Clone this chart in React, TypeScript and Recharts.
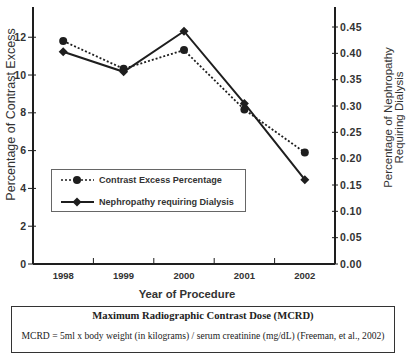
import React from 'react';
import { LineChart, Line, XAxis, YAxis, Legend } from 'recharts';

const years = ['1998', '1999', '2000', '2001', '2002'];
const contrastExcess = [11.8, 10.33, 11.32, 8.17, 5.9];
const nephropathyDialysis = [0.403, 0.365, 0.442, 0.305, 0.16];
const leftTicks = [0, 2, 4, 6, 8, 10, 12];
const rightTicks = [0, 0.05, 0.1, 0.15, 0.2, 0.25, 0.3, 0.35, 0.4, 0.45];
const seriesNames = ['Contrast Excess Percentage', 'Nephropathy requiring Dialysis'];
const xTitle = 'Year of Procedure';
const leftTitle = 'Percentage of Contrast Excess';
const rightTitle = ['Percentage of Nephropathy', 'Requiring Dialysis'];
const captionTitle = 'Maximum Radiographic Contrast Dose (MCRD)';
const captionText = 'MCRD = 5ml x body weight (in kilograms) / serum creatinine (mg/dL) (Freeman, et al., 2002)';

const data = years.map((y, i) => ({ year: y, contrast: contrastExcess[i], nephro: nephropathyDialysis[i] }));

const W = 411;
const CH = 300;
const LEFT_W = 33;
const RIGHT_W = 76;
const X_H = 36;
const TOP = 7;
const BAND = (W - LEFT_W - RIGHT_W) / years.length;
const INK = '#1e1e1e';
const SANS = '"Liberation Sans", Arial, sans-serif';
const SERIF = '"Liberation Serif", "Times New Roman", serif';

const XTick = (props: any) => {
  const { x, y, payload, index } = props;
  const axisY = y - 8;
  return (
    <g>
      <text x={x} y={y} dy="0.71em" textAnchor="middle" fontFamily={SANS} fontSize={9.5} fontWeight="bold" fill="#333">
        {payload.value}
      </text>
      {index < years.length - 1 && (
        <line x1={x + BAND / 2} x2={x + BAND / 2} y1={axisY} y2={axisY - 6} stroke={INK} strokeWidth={1} />
      )}
    </g>
  );
};

const LeftTick = (props: any) => {
  const { x, y, payload } = props;
  const axisX = x + 7;
  return (
    <g>
      <text x={x} y={y} dy="0.35em" textAnchor="end" fontFamily={SANS} fontSize={10.5} fontWeight="bold" fill="#333">
        {payload.value}
      </text>
      <line x1={axisX - 5} x2={axisX + 3} y1={y} y2={y} stroke={INK} strokeWidth={1} />
    </g>
  );
};

const RightTick = (props: any) => {
  const { x, y, payload } = props;
  const axisX = x - 5;
  return (
    <g>
      <line x1={axisX - 3} x2={axisX + 3} y1={y} y2={y} stroke={INK} strokeWidth={1} />
      <text x={x} y={y} dy="0.35em" textAnchor="start" fontFamily={SANS} fontSize={10.5} fontWeight="bold" letterSpacing={0.4} fill="#333">
        {Number(payload.value).toFixed(2)}
      </text>
    </g>
  );
};

const CircleDot = (props: any) => {
  const { cx, cy, index } = props;
  return <circle key={'c' + index} cx={cx} cy={cy} r={4} fill={INK} stroke="none" />;
};

const DiamondDot = (props: any) => {
  const { cx, cy, index } = props;
  return (
    <polygon
      key={'d' + index}
      points={`${cx},${cy - 4.5} ${cx + 4.5},${cy} ${cx},${cy + 4.5} ${cx - 4.5},${cy}`}
      fill={INK}
    />
  );
};

const LegendBox = () => (
  <div
    style={{
      width: 193,
      height: 41,
      border: '1px solid #666',
      background: '#fff',
      boxSizing: 'content-box',
    }}
  >
    <svg width={193} height={41} style={{ display: 'block' }}>
      <line x1={9} x2={42} y1={10} y2={10} stroke={INK} strokeWidth={1.5} strokeDasharray="2 2" />
      <circle cx={25} cy={10} r={4} fill={INK} />
      <text x={47} y={10} dy="0.35em" fontFamily={SANS} fontSize={9.1} fontWeight="bold" fill="#333">
        {seriesNames[0]}
      </text>
      <line x1={9} x2={42} y1={32} y2={32} stroke={INK} strokeWidth={2} />
      <polygon points="25,27.5 29.5,32 25,36.5 20.5,32" fill={INK} />
      <text x={47} y={32} dy="0.35em" fontFamily={SANS} fontSize={9.1} fontWeight="bold" fill="#333">
        {seriesNames[1]}
      </text>
    </svg>
  </div>
);

export default function App() {
  return (
    <div style={{ position: 'absolute', left: 0, top: 0, width: W, height: 355, background: '#fff' }}>
      <LineChart width={W} height={CH} data={data} margin={{ top: TOP, right: 0, left: 0, bottom: 0 }}>
        <XAxis
          dataKey="year"
          height={X_H}
          interval={0}
          padding={{ left: BAND / 2, right: BAND / 2 }}
          tickSize={6}
          tickMargin={2}
          tickLine={false}
          axisLine={{ stroke: INK, strokeWidth: 2 }}
          tick={<XTick />}
          label={{
            value: xTitle,
            position: 'insideBottom',
            offset: 2,
            dx: 3,
            fontFamily: SANS,
            fontSize: 11.3,
            fontWeight: 'bold',
            fill: '#333',
          }}
        />
        <XAxis
          xAxisId="top"
          dataKey="year"
          orientation="top"
          height={0}
          padding={{ left: BAND / 2, right: BAND / 2 }}
          tick={false}
          tickLine={false}
          axisLine={{ stroke: INK, strokeWidth: 2 }}
        />
        <YAxis
          yAxisId="left"
          width={LEFT_W}
          domain={[0, 13.6]}
          ticks={leftTicks}
          interval={0}
          tickSize={0}
          tickMargin={7}
          tickLine={false}
          axisLine={{ stroke: INK, strokeWidth: 2 }}
          tick={<LeftTick />}
          label={{
            content: (p: any) => {
              const vb = p.viewBox;
              const cx = 11;
              const cy = vb.y + vb.height / 2 - 21;
              return (
                <text
                  x={cx}
                  y={cy}
                  transform={`rotate(-90 ${cx} ${cy})`}
                  textAnchor="middle"
                  dy="0.35em"
                  fontFamily={SANS}
                  fontSize={12.5}
                  fill="#333"
                >
                  {leftTitle}
                </text>
              );
            },
          }}
        />
        <YAxis
          yAxisId="right"
          orientation="right"
          width={RIGHT_W}
          domain={[0, 0.488]}
          ticks={rightTicks}
          interval={0}
          tickSize={0}
          tickMargin={5}
          tickLine={false}
          axisLine={{ stroke: INK, strokeWidth: 2 }}
          tick={<RightTick />}
          label={{
            content: (p: any) => {
              const vb = p.viewBox;
              const cx = vb.x + 58;
              const cy = vb.y + vb.height / 2 - 18;
              return (
                <text
                  x={cx}
                  y={cy}
                  transform={`rotate(-90 ${cx} ${cy})`}
                  textAnchor="middle"
                  fontFamily={SANS}
                  fontSize={11.5}
                  fill="#333"
                >
                  <tspan x={cx} dy="-0.1em">{rightTitle[0]}</tspan>
                  <tspan x={cx} dy="0.95em">{rightTitle[1]}</tspan>
                </text>
              );
            },
          }}
        />
        <Legend
          layout="horizontal"
          verticalAlign="middle"
          align="center"
          content={<LegendBox />}
          wrapperStyle={{ position: 'absolute', left: 51, top: 169, width: 195, height: 43 }}
        />
        <Line
          yAxisId="left"
          dataKey="contrast"
          name={seriesNames[0]}
          stroke={INK}
          strokeWidth={1.8}
          strokeDasharray="2 2"
          dot={<CircleDot />}
          isAnimationActive={false}
        />
        <Line
          yAxisId="right"
          dataKey="nephro"
          name={seriesNames[1]}
          stroke={INK}
          strokeWidth={2}
          dot={<DiamondDot />}
          isAnimationActive={false}
        />
      </LineChart>
      <div
        style={{
          position: 'absolute',
          left: 11,
          top: 306,
          width: 382,
          height: 45,
          border: '1px solid #333',
          fontFamily: SERIF,
          color: '#222',
          textAlign: 'center',
          boxSizing: 'content-box',
        }}
      >
        <div style={{ position: 'absolute', left: 0, right: 0, top: 3, fontSize: 10.6, fontWeight: 'bold', lineHeight: '12px' }}>
          {captionTitle}
        </div>
        <div style={{ position: 'absolute', left: 0, right: 0, top: 23, fontSize: 9.6, lineHeight: '12px' }}>{captionText}</div>
      </div>
    </div>
  );
}
